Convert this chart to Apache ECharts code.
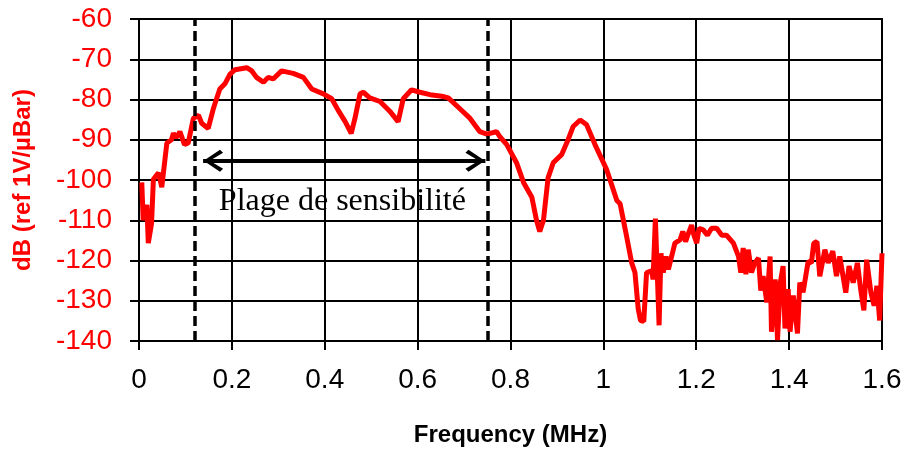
<!DOCTYPE html>
<html>
<head>
<meta charset="utf-8">
<script src="https://cdn.jsdelivr.net/npm/echarts@6/dist/echarts.min.js"></script>
<style>
  html, body { margin: 0; padding: 0; background: #fff; }
  #chart { width: 907px; height: 452px; }
</style>
</head>
<body>
<div id="chart"></div>
<script>
// frequency (MHz) and response (dB)
var freq = [0.006, 0.009, 0.017, 0.020, 0.027, 0.031, 0.042, 0.049, 0.060, 0.070, 0.074, 0.080, 0.088, 0.098, 0.106,
    0.117, 0.128, 0.135, 0.149, 0.160, 0.174, 0.185, 0.196, 0.207, 0.232, 0.243, 0.253, 0.268, 0.278, 0.289,
    0.307, 0.332, 0.354, 0.372, 0.397, 0.415, 0.429, 0.444, 0.457, 0.465, 0.476, 0.483, 0.497, 0.519, 0.540,
    0.558, 0.569, 0.587, 0.605, 0.627, 0.652, 0.666, 0.691, 0.713, 0.734, 0.749, 0.770, 0.777, 0.792, 0.813,
    0.828, 0.846, 0.856, 0.863, 0.871, 0.881, 0.892, 0.910, 0.924, 0.935, 0.950, 0.964, 0.982, 1.007, 1.029,
    1.036, 1.050, 1.061, 1.068, 1.075, 1.080, 1.087, 1.093, 1.104, 1.107, 1.112, 1.116, 1.120, 1.124, 1.129,
    1.135, 1.140, 1.147, 1.154, 1.165, 1.171, 1.177, 1.183, 1.190, 1.195, 1.201, 1.206, 1.215, 1.224, 1.233,
    1.244, 1.255, 1.265, 1.280, 1.291, 1.296, 1.301, 1.307, 1.312, 1.319, 1.326, 1.334, 1.339, 1.344, 1.352,
    1.359, 1.362, 1.370, 1.375, 1.381, 1.387, 1.391, 1.398, 1.402, 1.409, 1.418, 1.423, 1.430, 1.441, 1.448,
    1.453, 1.460, 1.466, 1.477, 1.484, 1.494, 1.502, 1.509, 1.522, 1.529, 1.538, 1.547, 1.554, 1.561, 1.567,
    1.576, 1.583, 1.589, 1.595, 1.599, 1.600];
var dB = [-100.6, -110, -106.2, -115.7, -110.8, -99.8, -98.2, -101.8, -90.8, -90, -88.4, -89.5, -88, -91.2, -90.8,
    -84.7, -83.9, -85.9, -87.2, -82.3, -77.4, -76.1, -73.7, -72.6, -72.1, -72.9, -74.5, -75.7, -74.5, -74.9,
    -72.9, -73.5, -74.5, -77.4, -78.6, -79.8, -82.7, -85.5, -88.4, -84.7, -78.6, -78.2, -79.6, -80.5, -82.9,
    -85.5, -79.8, -77.6, -78.2, -78.8, -79.2, -79.6, -82.3, -84.7, -88, -88.6, -88, -89.2, -91.2, -95.7,
    -100.6, -104.3, -110, -112.8, -110, -99.4, -95.7, -93.7, -90, -86.7, -85.1, -86.3, -91.2, -97.4, -105.1,
    -105.9, -114, -120.6, -123, -132, -134.9, -135.1, -123, -122.6, -124.7, -109.6, -110, -136.1, -118.2, -123,
    -119, -122.2, -119, -115.7, -114.9, -112.8, -115.3, -113.3, -111.2, -113.7, -115.7, -112, -112.4, -113.7, -112,
    -112, -113.7, -113.7, -115.7, -119, -123, -116.9, -123.4, -117.3, -123, -120.6, -119.4, -127.5, -123.9, -130.4,
    -119, -137.7, -124.7, -139.8, -125.5, -121.4, -136.9, -127.1, -137.7, -128.7, -138.1, -125.5, -127.9, -120.2, -120.6,
    -115.7, -115.3, -123.9, -117.3, -120.6, -117.7, -123.9, -119, -128, -121.4, -125.5, -120.6, -127.1, -132.4, -119.8,
    -127.9, -131.2, -126.3, -134.9, -121.4, -118.2];

// sensitivity range markers
var rangeStart = 0.121;
var rangeEnd = 0.748;
var arrowFrom = [0.138, -95.2];
var arrowTo = [0.746, -95.2];
var rangeLabel = 'Plage de sensibilité';
var rangeLabelPos = [0.438, -105.3];

var pts = freq.map(function (f, i) { return [f, dB[i]]; });

var myChart = echarts.init(document.getElementById('chart'));
// open arrow head, tip at the centre of its box
var chevron = 'path://M11,0 L11.1,0 L11,0.1 Z M11,20 L22,36 L19,39 L11,26 L3,39 L0,36 Z';

var option = {
    animation: false,
    grid: {
        left: 139, right: 25, top: 19, bottom: 107,
        show: true, borderColor: '#000', borderWidth: 2
    },
    xAxis: {
        type: 'value',
        min: 0, max: 1.6, interval: 0.2,
        name: 'Frequency (MHz)',
        nameLocation: 'middle',
        nameGap: 82,
        nameTextStyle: { fontFamily: 'Liberation Sans', fontWeight: 'bold', fontSize: 24, color: '#000' },
        axisLine: { lineStyle: { color: '#000', width: 2 } },
        axisTick: { show: true, length: 9, lineStyle: { color: '#000', width: 2 } },
        axisLabel: { fontFamily: 'Liberation Sans', fontSize: 28, color: '#000', margin: 25 },
        splitLine: { show: true, lineStyle: { color: '#000', width: 2 } }
    },
    yAxis: {
        type: 'value',
        min: -140, max: -60, interval: 10,
        name: 'dB (ref 1V/µBar)',
        nameLocation: 'middle',
        nameGap: 104,
        nameTextStyle: { fontFamily: 'Liberation Sans', fontWeight: 'bold', fontSize: 24, color: '#ff0000' },
        axisLine: { show: true, lineStyle: { color: '#000', width: 2 } },
        axisTick: { show: true, length: 9, lineStyle: { color: '#000', width: 2 } },
        axisLabel: { fontFamily: 'Liberation Sans', fontSize: 28, color: '#ff0000', margin: 27 },
        splitLine: { show: true, lineStyle: { color: '#000', width: 2 } }
    },
    series: [
        {
            type: 'line',
            data: pts,
            showSymbol: false,
            lineStyle: { color: '#ff0000', width: 5 },
            z: 3
        },
        {
            type: 'line',
            data: [],
            z: 4,
            markLine: {
                silent: true,
                symbol: 'none',
                label: { show: false },
                lineStyle: { color: '#000', width: 3.5, type: [10, 5] },
                data: [{ xAxis: rangeStart }, { xAxis: rangeEnd }]
            }
        },
        {
            type: 'line',
            data: [],
            z: 5,
            markLine: {
                silent: true,
                symbol: [chevron, chevron],
                symbolSize: [22, 40],
                label: { show: false },
                lineStyle: { color: '#000', width: 4, type: 'solid' },
                data: [[{ coord: arrowFrom }, { coord: arrowTo }]]
            },
            markPoint: {
                silent: true,
                symbol: 'circle',
                symbolSize: 0,
                label: {
                    show: true,
                    position: 'inside',
                    formatter: rangeLabel,
                    fontFamily: 'Liberation Serif',
                    fontSize: 32,
                    color: '#000'
                },
                data: [{ coord: rangeLabelPos }]
            }
        }
    ]
};
myChart.setOption(option);
</script>
</body>
</html>
